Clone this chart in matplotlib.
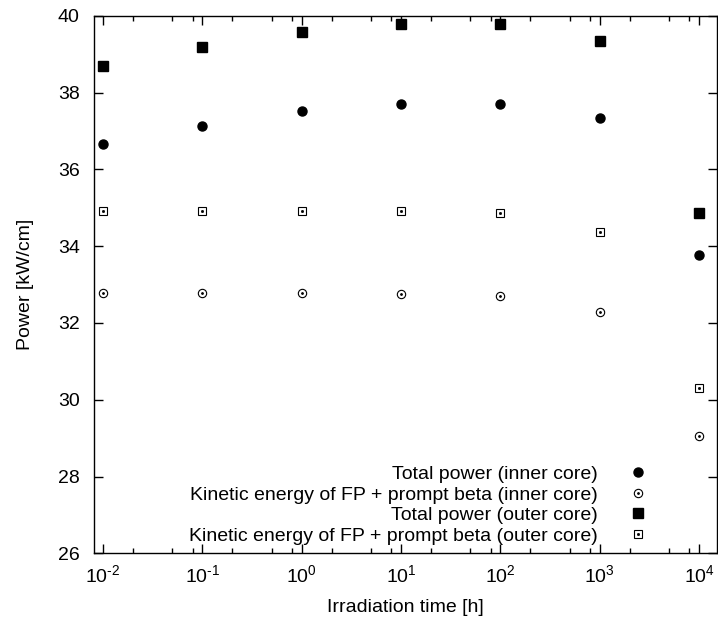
import matplotlib
matplotlib.use("Agg")
import matplotlib.pyplot as plt
import numpy as np
from matplotlib.ticker import FixedLocator, LogLocator, FuncFormatter, NullFormatter

plt.rcParams['font.family'] = ['Liberation Sans', 'DejaVu Sans']
plt.rcParams['mathtext.fontset'] = 'custom'
plt.rcParams['mathtext.rm'] = 'Liberation Sans'
plt.rcParams['mathtext.it'] = 'Liberation Sans:italic'
plt.rcParams['axes.unicode_minus'] = False

# irradiation time [h]
t = [1e-2, 1e-1, 1e0, 1e1, 1e2, 1e3, 1e4]
# power [kW/cm]
total_inner = [36.66, 37.13, 37.51, 37.69, 37.71, 37.34, 33.76]
kin_inner = [32.77, 32.77, 32.77, 32.75, 32.70, 32.29, 29.06]
total_outer = [38.69, 39.18, 39.58, 39.78, 39.79, 39.34, 34.87]
kin_outer = [34.92, 34.92, 34.92, 34.92, 34.85, 34.38, 30.31]

labels = ['Total power (inner core)',
          'Kinetic energy of FP + prompt beta (inner core)',
          'Total power (outer core)',
          'Kinetic energy of FP + prompt beta (outer core)']

fs = 14

fig = plt.figure(figsize=(7.18, 6.24), dpi=100)
ax = fig.add_axes([94.3/718, 1-553.3/624, (716.7-94.3)/718, (553.3-15.7)/624])

h1, = ax.plot(t, total_inner, 'o', color='k', ms=6.5, ls='none')
c_o, = ax.plot(t, kin_inner, 'o', mfc='none', mec='k', mew=0.8, ms=6.0, ls='none')
c_d, = ax.plot(t, kin_inner, 'o', color='k', ms=1.0, ls='none')
h3, = ax.plot(t, total_outer, 's', color='k', ms=7.0, ls='none')
s_o, = ax.plot(t, kin_outer, 's', mfc='none', mec='k', mew=0.8, ms=5.2, ls='none')
s_d, = ax.plot(t, kin_outer, 's', color='k', ms=1.0, ls='none')

ax.set_xscale('log')
ax.set_xlim(10**-2.088, 10**4.178)
ax.set_ylim(26, 40)
ax.set_yticks(np.arange(26, 41, 2))
ax.xaxis.set_major_locator(FixedLocator(t))
ax.xaxis.set_minor_locator(LogLocator(base=10, subs=[2, 5, 8], numticks=20))
# plain hyphen in the exponent
ax.xaxis.set_major_formatter(FuncFormatter(
    lambda v, p: r'$10^{\text{%d}}$' % round(np.log10(v))))
ax.xaxis.set_minor_formatter(NullFormatter())

ax.tick_params(which='both', direction='in', top=True, right=True, labelsize=fs)
ax.tick_params(which='major', length=6.5, width=1.0)
ax.tick_params(which='minor', length=3.5, width=1.0)
ax.tick_params(axis='x', which='major', pad=8)
ax.tick_params(axis='y', which='major', pad=10.5)
for sp in ax.spines.values():
    sp.set_linewidth(1.0)

ax.set_xlabel('Irradiation time [h]', fontsize=fs, labelpad=9)
ax.set_ylabel('Power [kW/cm]', fontsize=fs, labelpad=17)

ax.legend([h1, (c_o, c_d), h3, (s_o, s_d)], labels, loc='lower right',
          bbox_to_anchor=(0.905, -0.002), frameon=False, markerfirst=False,
          fontsize=fs, handlelength=1.0, handletextpad=1.6,
          labelspacing=0.15, borderpad=0.0)

fig.savefig('out.png', dpi=100)
